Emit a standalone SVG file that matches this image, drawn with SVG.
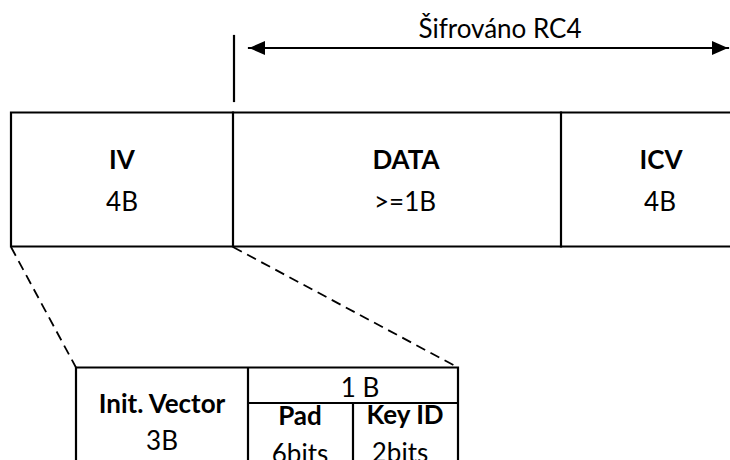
<svg xmlns="http://www.w3.org/2000/svg" width="730" height="460" viewBox="0 0 730 460">
  <style>
    .bg { fill: #ffffff; }
    .edge { fill: none; stroke: #000000; stroke-width: 2.2; stroke-linecap: square; }
    .dash { fill: none; stroke: #000000; stroke-width: 1.8; stroke-dasharray: 10 6; }
    .t { font-family: Lato, "Liberation Sans", sans-serif; font-size: 26px; fill: #000000; text-anchor: middle; }
    .b { font-weight: bold; }
  </style>
  <defs>
    <marker id="head" viewBox="0 0 16 14" refX="16" refY="7" markerWidth="16" markerHeight="14" markerUnits="userSpaceOnUse" orient="auto-start-reverse">
      <path d="M0,0 L16,7 L0,14 Z" fill="#000000"/>
    </marker>
  </defs>
  <rect class="bg" x="0" y="0" width="730" height="460"/>

  <!-- frame fields -->
  <g id="iv">
    <path class="edge" d="M11,112.5 H233 M11,246.5 H233 M11,112.5 V246.5"/>
    <text class="t b" x="122" y="169">IV</text>
    <text class="t" x="122" y="211">4B</text>
  </g>
  <g id="data">
    <path class="edge" d="M233,112.5 H561 M233,246.5 H561 M233,112.5 V246.5"/>
    <text class="t b" x="406" y="169">DATA</text>
    <text class="t" x="405" y="211">&gt;=1B</text>
  </g>
  <g id="icv">
    <path class="edge" d="M561,112.5 H732 M561,246.5 H732 M561,112.5 V246.5"/>
    <text class="t b" x="661" y="169">ICV</text>
    <text class="t" x="660" y="211">4B</text>
  </g>

  <!-- expanded IV field -->
  <g id="iv-detail">
    <path class="edge" d="M76,367.5 H458 M76,367.5 V462 M458,367.5 V462 M248,367.5 V462 M248,403 H458 M353,403 V462"/>
    <text class="t b" x="162" y="413">Init. Vector</text>
    <text class="t" x="162" y="450">3B</text>
    <text class="t" x="360" y="397">1 B</text>
    <text class="t b" x="300" y="425">Pad</text>
    <text class="t" x="300" y="463">6bits</text>
    <text class="t b" x="405" y="424">Key ID</text>
    <text class="t" x="400" y="462">2bits</text>
  </g>

  <!-- encrypted range marker -->
  <g id="rc4-label">
    <text class="t" x="500" y="38">Šifrováno RC4</text>
  </g>

  <g id="connectors">
    <line class="edge" x1="234" y1="36" x2="234" y2="101" stroke-linecap="butt"/>
    <line class="edge" x1="249" y1="48" x2="728" y2="48" stroke-linecap="butt" marker-start="url(#head)" marker-end="url(#head)"/>
    <line class="dash" x1="11" y1="247" x2="76" y2="367.5"/>
    <line class="dash" x1="233" y1="247" x2="458" y2="367.5"/>
  </g>
</svg>
